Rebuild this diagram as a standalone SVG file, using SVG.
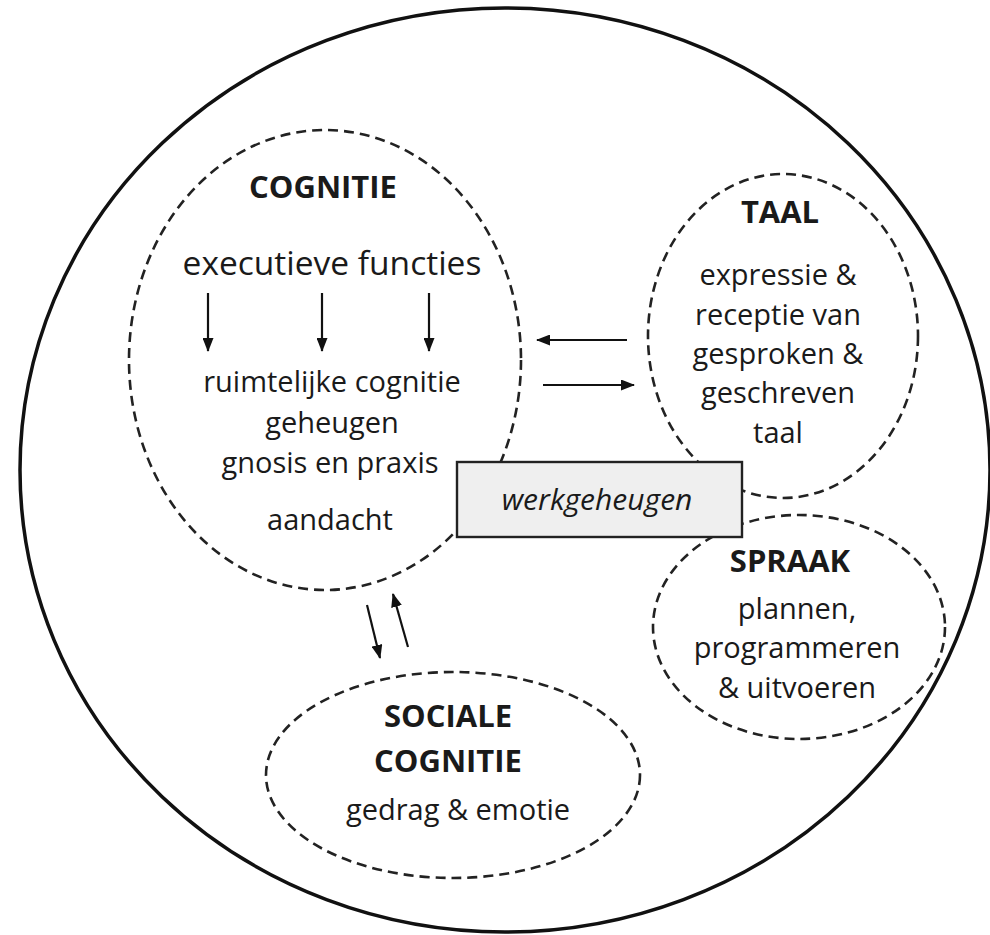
<svg xmlns="http://www.w3.org/2000/svg" width="990" height="935" viewBox="0 0 990 935">
<style>
.dash{fill:none;stroke:#222;stroke-width:2.6;stroke-dasharray:10 6}
.t{font-family:"Open Sans","Noto Sans","Liberation Sans",sans-serif;fill:#1a1a1a;text-anchor:middle}
.h{font-weight:bold;font-size:31px}
.b{font-size:29px}
.con{stroke:#111;stroke-width:2.2;fill:none}
</style>
<defs>
<marker id="ah" viewBox="0 0 14 11" refX="13" refY="5.5" markerWidth="14" markerHeight="11" markerUnits="userSpaceOnUse" orient="auto">
<path d="M0,0 L14,5.5 L0,11 Z" fill="#111"/>
</marker>
</defs>
<rect width="990" height="935" fill="#fff"/>
<ellipse id="outer" cx="505" cy="470" rx="485" ry="462" fill="none" stroke="#111" stroke-width="3.5"/>

<g id="cognitie">
<ellipse class="dash" cx="325" cy="360" rx="196" ry="230"/>
<text class="t h" x="323" y="198">COGNITIE</text>
<text class="t" x="332" y="275" font-size="33.5">executieve functies</text>
<text class="t b" x="332" y="392">ruimtelijke cognitie</text>
<text class="t b" x="332" y="433">geheugen</text>
<text class="t b" x="330" y="473">gnosis en praxis</text>
<text class="t b" x="330" y="530">aandacht</text>
</g>

<g id="taal">
<ellipse class="dash" cx="783" cy="336" rx="135" ry="162"/>
<text class="t h" x="780" y="223">TAAL</text>
<text class="t b" x="778" y="285">expressie &amp;</text>
<text class="t b" x="778" y="325">receptie van</text>
<text class="t b" x="778" y="364">gesproken &amp;</text>
<text class="t b" x="778" y="403">geschreven</text>
<text class="t b" x="778" y="443">taal</text>
</g>

<g id="spraak">
<ellipse class="dash" cx="799" cy="627" rx="146" ry="112"/>
<text class="t h" x="790" y="572">SPRAAK</text>
<text class="t b" x="797" y="619">plannen,</text>
<text class="t b" x="797" y="658">programmeren</text>
<text class="t b" x="797" y="698">&amp; uitvoeren</text>
</g>

<g id="sociale">
<ellipse class="dash" cx="453" cy="775" rx="187" ry="103"/>
<text class="t h" x="448" y="727">SOCIALE</text>
<text class="t h" x="448" y="772">COGNITIE</text>
<text class="t b" x="458" y="820">gedrag &amp; emotie</text>
</g>

<g id="werkgeheugen">
<rect x="457" y="462" width="285" height="75" fill="#efefef" stroke="#222" stroke-width="2.4"/>
<text class="t" x="597" y="510" font-size="30" font-style="italic">werkgeheugen</text>
</g>

<g id="connectors">
<line class="con" x1="208" y1="293" x2="208" y2="351" marker-end="url(#ah)"/>
<line class="con" x1="322" y1="293" x2="322" y2="351" marker-end="url(#ah)"/>
<line class="con" x1="429" y1="293" x2="429" y2="351" marker-end="url(#ah)"/>
<line class="con" x1="627" y1="340" x2="537" y2="340" marker-end="url(#ah)"/>
<line class="con" x1="543" y1="385" x2="634" y2="385" marker-end="url(#ah)"/>
<line class="con" x1="367" y1="605" x2="380" y2="658" marker-end="url(#ah)"/>
<line class="con" x1="408" y1="647" x2="393" y2="594" marker-end="url(#ah)"/>
</g>
</svg>
